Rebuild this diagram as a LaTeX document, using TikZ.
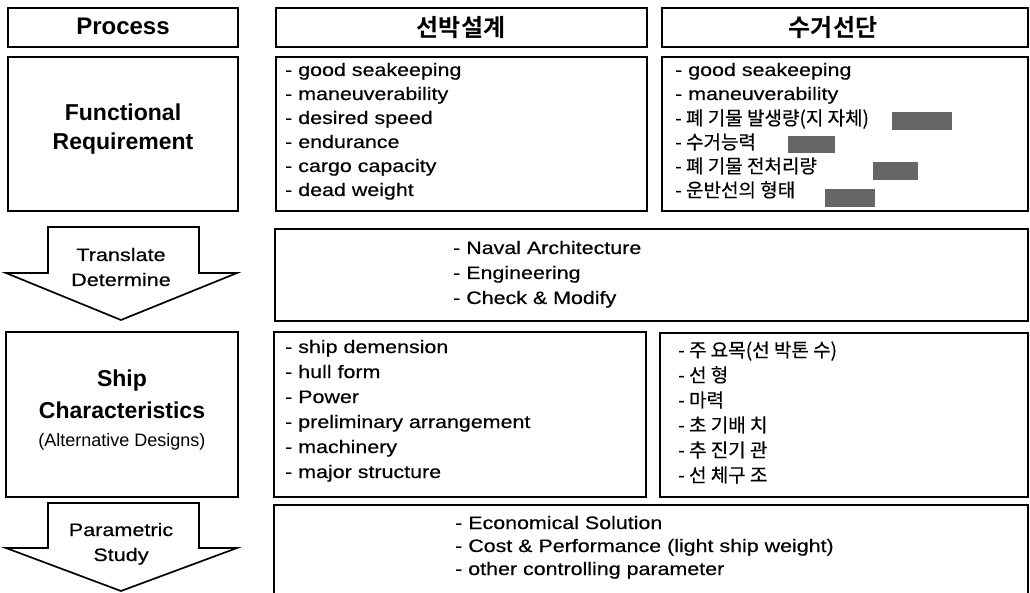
\documentclass[tikz,border=0pt]{standalone}
\usepackage{fontspec}
\setmainfont{Liberation Sans}
\newfontfamily\rf[FakeStretch=1.19,FakeBold=0.4]{Liberation Sans}
\newfontfamily\lbl[FakeStretch=1.2,FakeBold=0.4]{Liberation Sans}
\newfontfamily\kr[FakeBold=0.3]{Noto Sans CJK KR}
\newfontfamily\krb{Noto Sans CJK KR Bold}
\tikzset{
  box/.style={draw=black, line width=1.7pt, inner sep=0pt},
  arrowshape/.style={draw=black, line width=1.7pt, line join=miter},
  lst/.style={anchor=base west, inner sep=0pt, font=\rf\fontsize{18}{20}\selectfont},
  klst/.style={anchor=base west, inner sep=0pt, font=\kr\fontsize{19}{20}\selectfont},
  head/.style={anchor=base, inner sep=0pt, font=\bfseries\fontsize{23}{26}\selectfont},
  khead/.style={anchor=base, inner sep=0pt, font=\krb\fontsize{24}{26}\selectfont},
  albl/.style={anchor=base, inner sep=0pt, font=\lbl\fontsize{18}{20}\selectfont},
  hid/.style={fill=black!60, draw=none, inner sep=0pt},
}
\begin{document}
\begin{tikzpicture}[x=1pt,y=-1pt]
\useasboundingbox (0,0) rectangle (1030,593);
\clip (0,0) rectangle (1030,593);
% header row
\node[box, minimum width=230pt, minimum height=39pt] (proc) at (123,27.5) {};
\node[box, minimum width=371pt, minimum height=39pt] (hA) at (461.5,27.5) {};
\node[box, minimum width=366pt, minimum height=39pt] (hB) at (845,27.5) {};
\node[head, font=\bfseries\fontsize{24}{26}\selectfont] (tproc) at (123,35) {Process};
\node[khead] (thA) at (461,36.5) {선박설계};
\node[khead] (thB) at (833,36.5) {수거선단};
% functional requirement row
\node[box, minimum width=230pt, minimum height=154pt] (fr) at (123,134) {};
\node[box, minimum width=371pt, minimum height=154pt] (fA) at (461.5,134) {};
\node[box, minimum width=366pt, minimum height=154pt] (fB) at (845,134) {};
\node[head] (tfr1) at (123,121) {Functional};
\node[head] (tfr2) at (123,150) {Requirement};
\node[lst] (a1) at (285,76) {- good seakeeping};
\node[lst] (a2) at (285,100) {- maneuverability};
\node[lst] (a3) at (285,124) {- desired speed};
\node[lst] (a4) at (285,148) {- endurance};
\node[lst] (a5) at (285,172) {- cargo capacity};
\node[lst] (a6) at (285,196) {- dead weight};
\node[lst] (b1) at (675,76) {- good seakeeping};
\node[lst] (b2) at (675,100) {- maneuverability};
\node[klst] (b3) at (675,125) {- 폐 기물 발생량(지 자체)};
\node[klst] (b4) at (675,149) {- 수거능력};
\node[klst] (b5) at (675,173) {- 폐 기물 전처리량};
\node[klst] (b6) at (675,197) {- 운반선의 형태};
\node[hid, minimum width=60pt, minimum height=18pt] (g1) at (922,121) {};
\node[hid, minimum width=47pt, minimum height=17pt] (g2) at (811.5,144.5) {};
\node[hid, minimum width=45pt, minimum height=18pt] (g3) at (895.5,171) {};
\node[hid, minimum width=50pt, minimum height=18pt] (g4) at (850,198) {};
% translate arrow
\draw[arrowshape] (48,227) -- (199,227) -- (199,273) -- (237,273) -- (121,320) -- (6,273) -- (48,273) -- cycle;
\node[albl] (tr1) at (121,261) {Translate};
\node[albl] (tr2) at (121,286) {Determine};
\node[box, minimum width=753pt, minimum height=92pt] (nav) at (651.5,275) {};
\node[lst] (n1) at (453,254) {- Naval Architecture};
\node[lst] (n2) at (453,279) {- Engineering};
\node[lst] (n3) at (453,304) {- Check \& Modify};
% ship characteristics row
\node[box, minimum width=232pt, minimum height=165pt] (sc) at (122,414.5) {};
\node[box, minimum width=372pt, minimum height=165pt] (sA) at (460,414.5) {};
\node[box, minimum width=368pt, minimum height=164pt] (sB) at (844,415) {};
\node[head] (ts1) at (122,386) {Ship};
\node[head] (ts2) at (122,418) {Characteristics};
\node[anchor=base, inner sep=0pt, font=\fontsize{18}{20}\selectfont] (ts3) at (122,446) {(Alternative Designs)};
\node[lst] (c1) at (285,353) {- ship demension};
\node[lst] (c2) at (285,378) {- hull form};
\node[lst] (c3) at (285,403) {- Power};
\node[lst] (c4) at (285,428) {- preliminary arrangement};
\node[lst] (c5) at (285,453) {- machinery};
\node[lst] (c6) at (285,478) {- major structure};
\node[klst] (d1) at (678,357) {- 주 요목(선 박톤 수)};
\node[klst] (d2) at (678,382) {- 선 형};
\node[klst] (d3) at (678,407) {- 마력};
\node[klst] (d4) at (678,432) {- 초 기배 치};
\node[klst] (d5) at (678,457) {- 추 진기 관};
\node[klst] (d6) at (678,482) {- 선 체구 조};
% parametric arrow
\draw[arrowshape] (48,503) -- (199,503) -- (199,548) -- (237,548) -- (121,591) -- (6,548) -- (48,548) -- cycle;
\node[albl] (pa1) at (121,536) {Parametric};
\node[albl] (pa2) at (121,561) {Study};
\node[box, minimum width=754pt, minimum height=95pt] (eco) at (651,552.5) {};
\node[lst] (e1) at (455,529) {- Economical Solution};
\node[lst] (e2) at (455,552) {- Cost \& Performance (light ship weight)};
\node[lst] (e3) at (455,575) {- other controlling parameter};
\end{tikzpicture}
\end{document}
